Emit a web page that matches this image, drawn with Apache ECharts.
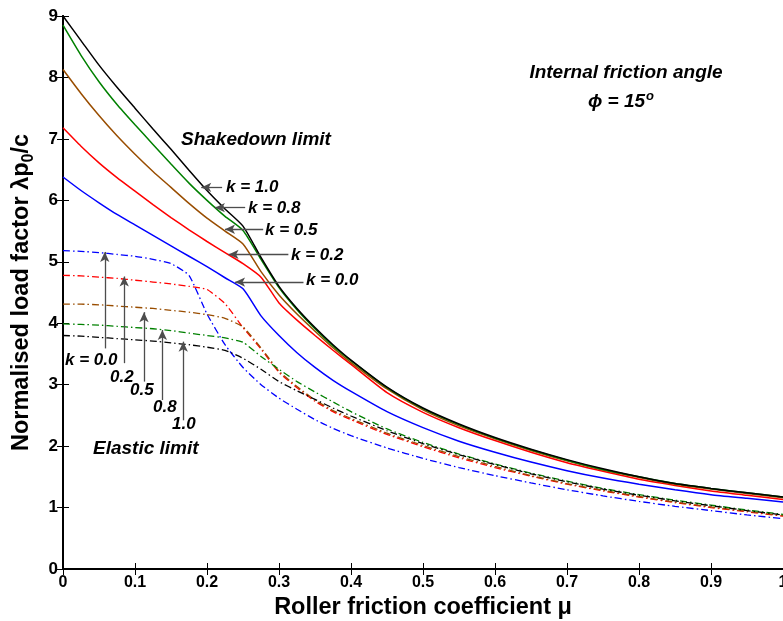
<!DOCTYPE html>
<html>
<head>
<meta charset="utf-8">
<script src="https://cdn.jsdelivr.net/npm/echarts@6/dist/echarts.min.js"></script>
<style>
  html, body { margin: 0; padding: 0; background: #fff; }
  #chart { width: 783px; height: 621px; }
</style>
</head>
<body>
<div id="chart"></div>
<script>
// friction coefficient grid
const mu = [0, 0.025, 0.05, 0.075, 0.1, 0.125, 0.15, 0.175, 0.2, 0.225, 0.25, 0.275, 0.3, 0.325, 0.35, 0.375, 0.4,
  0.45, 0.5, 0.55, 0.6, 0.65, 0.7, 0.75, 0.8, 0.85, 0.9, 0.95, 1.0];

// shakedown limit (solid)
const sd10 = [9.00, 8.60, 8.20, 7.84, 7.50, 7.16, 6.83, 6.49, 6.16, 5.86, 5.58, 5.07, 4.60, 4.24, 3.93, 3.65, 3.40, 2.96, 2.62, 2.36, 2.14, 1.95, 1.78, 1.63, 1.50, 1.39, 1.31, 1.24, 1.17];
const sd08 = [8.85, 8.36, 7.93, 7.56, 7.23, 6.91, 6.59, 6.28, 6.00, 5.74, 5.51, 5.04, 4.58, 4.22, 3.91, 3.63, 3.39, 2.95, 2.61, 2.35, 2.13, 1.94, 1.77, 1.62, 1.50, 1.39, 1.31, 1.24, 1.17];
const sd05 = [8.13, 7.74, 7.38, 7.05, 6.75, 6.47, 6.21, 5.95, 5.71, 5.50, 5.29, 4.84, 4.46, 4.15, 3.87, 3.60, 3.36, 2.93, 2.59, 2.33, 2.12, 1.93, 1.76, 1.61, 1.49, 1.38, 1.30, 1.23, 1.16];
const sd02 = [7.18, 6.88, 6.61, 6.37, 6.15, 5.93, 5.72, 5.52, 5.33, 5.15, 4.97, 4.75, 4.33, 4.05, 3.80, 3.56, 3.33, 2.87, 2.55, 2.30, 2.09, 1.90, 1.73, 1.59, 1.46, 1.36, 1.27, 1.20, 1.13];
const sd00 = [6.38, 6.16, 5.96, 5.77, 5.60, 5.43, 5.26, 5.09, 4.92, 4.74, 4.56, 4.12, 3.80, 3.52, 3.28, 3.07, 2.89, 2.56, 2.30, 2.08, 1.90, 1.74, 1.60, 1.48, 1.38, 1.29, 1.21, 1.15, 1.09];

// elastic limit (dash-dot)
const el00 = [5.18, 5.17, 5.15, 5.12, 5.09, 5.04, 4.97, 4.78, 4.15, 3.65, 3.28, 3.00, 2.78, 2.60, 2.43, 2.29, 2.17, 1.97, 1.80, 1.65, 1.52, 1.40, 1.29, 1.19, 1.10, 1.02, 0.95, 0.88, 0.82];
const el02 = [4.78, 4.77, 4.75, 4.73, 4.70, 4.67, 4.64, 4.60, 4.55, 4.32, 3.93, 3.58, 3.20, 2.95, 2.73, 2.56, 2.43, 2.19, 1.99, 1.81, 1.65, 1.51, 1.38, 1.27, 1.17, 1.08, 1.00, 0.93, 0.86];
const el05 = [4.31, 4.31, 4.30, 4.28, 4.26, 4.24, 4.21, 4.18, 4.14, 4.08, 3.94, 3.60, 3.22, 2.97, 2.75, 2.58, 2.45, 2.21, 2.01, 1.83, 1.67, 1.52, 1.39, 1.28, 1.18, 1.09, 1.01, 0.94, 0.87];
const el08 = [3.99, 3.98, 3.97, 3.95, 3.93, 3.91, 3.88, 3.84, 3.80, 3.76, 3.69, 3.46, 3.25, 3.05, 2.88, 2.72, 2.56, 2.28, 2.06, 1.87, 1.71, 1.56, 1.43, 1.31, 1.21, 1.12, 1.04, 0.96, 0.89];
const el10 = [3.80, 3.79, 3.77, 3.75, 3.73, 3.71, 3.68, 3.65, 3.61, 3.56, 3.43, 3.25, 3.05, 2.90, 2.76, 2.62, 2.49, 2.25, 2.04, 1.86, 1.70, 1.55, 1.42, 1.30, 1.20, 1.11, 1.03, 0.95, 0.88];

// annotation arrows [x1, y1, x2, y2] (tail -> head), in data units
const sdArrows = [
  [0.221, 6.21, 0.192, 6.21],
  [0.253, 5.88, 0.211, 5.88],
  [0.278, 5.53, 0.225, 5.53],
  [0.313, 5.12, 0.230, 5.12],
  [0.334, 4.67, 0.239, 4.67]
];
const elArrows = [
  [0.058, 3.59, 0.058, 5.16],
  [0.085, 3.35, 0.085, 4.76],
  [0.1125, 3.05, 0.1125, 4.18],
  [0.138, 2.75, 0.138, 3.89],
  [0.167, 2.42, 0.167, 3.70]
];

var chart = echarts.init(document.getElementById('chart'));
var font = 'Liberation Sans, Arial, sans-serif';
var dashDot = [7, 3, 1.5, 3];

function pts(arr) {
  return mu.map((m, i) => [m, arr[i]]);
}
function solid(name, arr, color) {
  return { name: name, type: 'line', data: pts(arr), showSymbol: false, silent: true,
    smooth: 0.2, lineStyle: { color: color, width: 1.5 }, z: 3 };
}
function dd(name, arr, color) {
  return { name: name, type: 'line', data: pts(arr), showSymbol: false, silent: true,
    smooth: 0.15, lineStyle: { color: color, width: 1.3, type: dashDot }, z: 2 };
}

var arrowData = sdArrows.concat(elArrows).map(a => [
  { coord: [a[0], a[1]] },
  { coord: [a[2], a[3]] }
]);

var axisLine = { lineStyle: { color: '#000', width: 2 } };
var tick = { inside: true, length: 6, lineStyle: { color: '#000', width: 1 } };

// italic bold label at (x, y), vertically centred
function txt(x, y, text, size, align) {
  return { type: 'text', x: x, y: y,
    style: { text: text, font: 'italic bold ' + size + 'px ' + font, fill: '#000',
      align: align || 'left', verticalAlign: 'middle' } };
}

chart.setOption({
  animation: false,
  backgroundColor: '#fff',
  grid: { left: 63, right: 0, top: 16, bottom: 52, containLabel: false, outerBoundsMode: 'none' },
  xAxis: [
    { type: 'value', min: 0, max: 1, interval: 0.1, position: 'bottom',
      axisLine: axisLine, axisTick: tick, splitLine: { show: false },
      axisLabel: { color: '#000', fontFamily: font, fontWeight: 'bold', fontSize: 16, margin: 6,
        formatter: v => (v === 0 || v === 1) ? String(v) : v.toFixed(1) },
      name: 'Roller friction coefficient \u03bc', nameLocation: 'middle', nameGap: 22,
      nameTextStyle: { color: '#000', fontFamily: font, fontWeight: 'bold', fontSize: 23.5 } },
    { type: 'value', min: 0, max: 1, interval: 0.1, position: 'top',
      axisLine: axisLine, axisTick: tick, axisLabel: { show: false }, splitLine: { show: false } }
  ],
  yAxis: [
    { type: 'value', min: 0, max: 9, interval: 1, position: 'left',
      axisLine: axisLine, axisTick: tick, splitLine: { show: false },
      axisLabel: { color: '#000', fontFamily: font, fontWeight: 'bold', fontSize: 17, margin: 5 },
      name: '{t|Normalised load factor \u03bbp}{s|0}{t|/c}', nameLocation: 'middle', nameGap: 26,
      nameTextStyle: { rich: {
        t: { color: '#000', fontFamily: font, fontWeight: 'bold', fontSize: 23.5 },
        s: { color: '#000', fontFamily: font, fontWeight: 'bold', fontSize: 16, verticalAlign: 'bottom', padding: [14, 0, 0, 0] }
      } } },
    { type: 'value', min: 0, max: 9, interval: 1, position: 'right',
      axisLine: axisLine, axisTick: tick, axisLabel: { show: false }, splitLine: { show: false } }
  ],
  series: [
    dd('el00', el00, '#0000ff'),
    dd('el02', el02, '#ff0000'),
    dd('el05', el05, '#994d00'),
    dd('el08', el08, '#008000'),
    dd('el10', el10, '#000000'),
    solid('sd00', sd00, '#0000ff'),
    solid('sd02', sd02, '#ff0000'),
    solid('sd05', sd05, '#994d00'),
    solid('sd08', sd08, '#008000'),
    solid('sd10', sd10, '#000000'),
    { name: 'arrows', type: 'line', data: [], silent: true,
      markLine: { silent: true, symbol: ['none', 'arrow'], symbolSize: [7, 10],
        label: { show: false }, lineStyle: { color: '#4d4d4d', width: 1.3, type: 'solid' },
        emphasis: { disabled: true }, data: arrowData } }
  ],
  graphic: [
    txt(626, 73, 'Internal friction angle', 19, 'center'),
    { type: 'text', x: 621, y: 102,
      style: { text: '{a|\u03d5 = 15}{b|o}', align: 'center', verticalAlign: 'middle', rich: {
        a: { font: 'italic bold 19px ' + font, fill: '#000' },
        b: { font: 'italic bold 13px ' + font, fill: '#000', verticalAlign: 'top', padding: [0, 0, 11, 1] }
      } } },
    txt(181, 140, 'Shakedown limit', 19),
    txt(226, 187, 'k = 1.0', 17),
    txt(248, 208, 'k = 0.8', 17),
    txt(265, 230, 'k = 0.5', 17),
    txt(291, 255, 'k = 0.2', 17),
    txt(306, 280, 'k = 0.0', 17),
    txt(65, 360, 'k = 0.0', 17),
    txt(110, 377, '0.2', 17),
    txt(130, 390, '0.5', 17),
    txt(153, 407, '0.8', 17),
    txt(172, 424, '1.0', 17),
    txt(93, 449, 'Elastic limit', 19)
  ]
});
</script>
</body>
</html>
